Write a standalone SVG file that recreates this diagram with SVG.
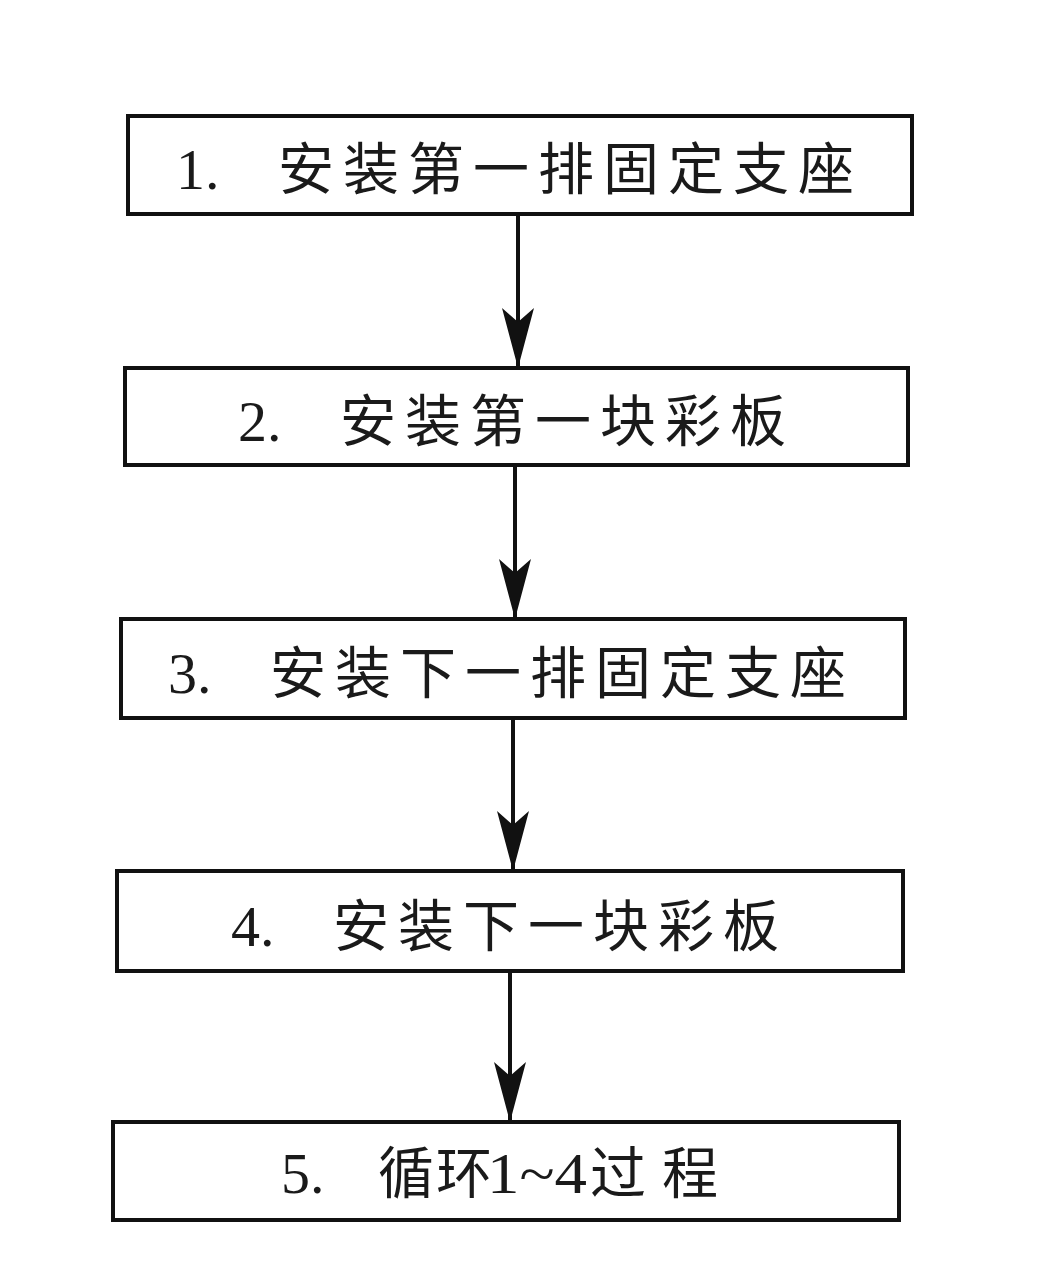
<svg xmlns="http://www.w3.org/2000/svg" width="1060" height="1281" viewBox="0 0 1060 1281">
<style>
.box{fill:#fff;stroke:#111;stroke-width:4}
.num{font-family:"Liberation Serif","Noto Sans CJK SC",serif;font-size:58px;fill:#1a1a1a}
.cn{font-family:"Noto Sans CJK SC",sans-serif;font-size:56px;fill:#1a1a1a;letter-spacing:9px}
.edge{stroke:#111;stroke-width:4;fill:none;marker-end:url(#ah)}
</style>
<defs>
<marker id="ah" viewBox="0 0 60 32" refX="58" refY="16" markerWidth="60" markerHeight="32" markerUnits="userSpaceOnUse" orient="auto">
<path d="M0,0 L60,16 L0,32 L14,16 Z" fill="#111"/>
</marker>
</defs>
<rect width="1060" height="1281" fill="#fff"/>
<g id="edges">
<line class="edge" x1="518" y1="214" x2="518" y2="366"/>
<line class="edge" x1="515" y1="465" x2="515" y2="617"/>
<line class="edge" x1="513" y1="718" x2="513" y2="869"/>
<line class="edge" x1="510" y1="971" x2="510" y2="1120"/>
</g>
<g id="n1">
<rect class="box" x="128" y="116" width="784" height="98"/>
<text class="num" x="176" y="189">1.</text>
<text class="cn" x="278" y="189">安装第一排固定支座</text>
</g>
<g id="n2">
<rect class="box" x="125" y="368" width="783" height="97"/>
<text class="num" x="238" y="441">2.</text>
<text class="cn" x="340" y="441">安装第一块彩板</text>
</g>
<g id="n3">
<rect class="box" x="121" y="619" width="784" height="99"/>
<text class="num" x="168" y="693">3.</text>
<text class="cn" x="270" y="693">安装下一排固定支座</text>
</g>
<g id="n4">
<rect class="box" x="117" y="871" width="786" height="100"/>
<text class="num" x="231" y="946">4.</text>
<text class="cn" x="333" y="946">安装下一块彩板</text>
</g>
<g id="n5">
<rect class="box" x="113" y="1122" width="786" height="98"/>
<text class="num" x="281" y="1193">5.</text>
<text class="cn" x="378" y="1193" style="letter-spacing:2px">循环</text>
<text class="num" x="487" y="1193" textLength="100" lengthAdjust="spacingAndGlyphs">1~4</text>
<text class="cn" x="590" y="1193" style="letter-spacing:16px">过程</text>
</g>
</svg>
